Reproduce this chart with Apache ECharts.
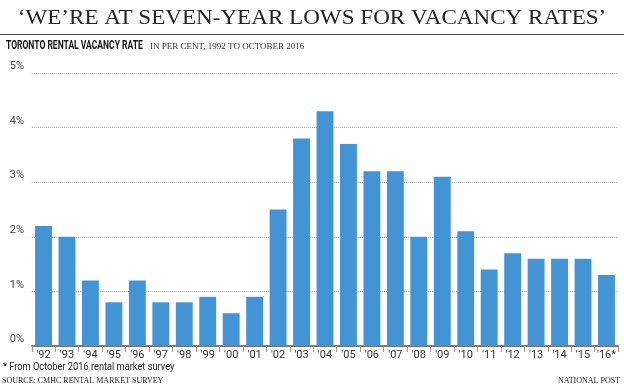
<!DOCTYPE html>
<html><head><meta charset="utf-8">
<script src="https://cdn.jsdelivr.net/npm/echarts@6/dist/echarts.min.js"></script>
<style>html,body{margin:0;padding:0;background:#fff}#c{width:624px;height:386px}</style>
</head><body><div id="c"></div>
<script>
const categories = ["'92","'93","'94","'95","'96","'97","'98","'99","'00","'01","'02","'03","'04","'05","'06","'07","'08","'09","'10","'11","'12","'13","'14","'15","'16*"];
const vacancyRate = [2.2,2.0,1.2,0.8,1.2,0.8,0.8,0.9,0.6,0.9,2.5,3.8,4.3,3.7,3.2,3.2,2.0,3.1,2.1,1.4,1.7,1.6,1.6,1.6,1.3];
const yTicks = [0,1,2,3,4,5];

const narrow = "'Roboto',sans-serif";
const serif = "'Liberation Serif','DejaVu Serif',serif";
const chart = echarts.init(document.getElementById('c'), null, {renderer:'canvas'});
chart.setOption({
  animation:false,
  grid:{left:31.8,right:5.8,top:73,bottom:40,containLabel:false},
  xAxis:{type:'category',data:categories,
    axisLine:{lineStyle:{color:'#555',width:1.5}},
    axisTick:{show:true,length:6,lineStyle:{color:'#999'}},
    axisLabel:{color:'#333',fontFamily:narrow,fontSize:11,margin:4,interval:0}},
  yAxis:{type:'value',min:yTicks[0],max:yTicks[yTicks.length-1],interval:1,
    axisLine:{show:false},axisTick:{show:false},
    axisLabel:{color:'#444',fontFamily:narrow,fontSize:11,align:'left',margin:22,verticalAlign:'bottom',formatter:v=>v+'%',padding:[0,0,1,0]},
    splitLine:{lineStyle:{color:'#aaa',type:[1,1],width:1}}},
  series:[{type:'bar',data:vacancyRate,barCategoryGap:'28%',itemStyle:{color:'#4394d4'}}],
  graphic:[
    {type:'text',x:312,y:8,scaleX:1.1,style:{text:'‘WE’RE AT SEVEN-YEAR LOWS FOR VACANCY RATES’',font:"21px "+serif,fill:'#222',textAlign:'center'}},
    {type:'line',shape:{x1:0,y1:34.5,x2:624,y2:34.5},style:{stroke:'#444',lineWidth:1}},
    {type:'text',x:6,y:40,scaleX:0.71,style:{text:'TORONTO RENTAL VACANCY RATE',font:"bold 12px "+narrow,fill:'#111'}},
    {type:'text',x:150,y:42,style:{text:'IN PER CENT, 1992 TO OCTOBER 2016',font:"9px "+serif,fill:'#333'}},
    {type:'text',x:3,y:362,scaleX:0.84,style:{text:'* From October 2016 rental market survey',font:"11px "+narrow,fill:'#222'}},
    {type:'text',left:2,top:377,style:{text:'SOURCE: CMHC RENTAL MARKET SURVEY',font:"8px "+serif,fill:'#222'}},
    {type:'text',right:4,top:377,style:{text:'NATIONAL POST',font:"8px "+serif,fill:'#222'}}
  ]
});
</script></body></html>
